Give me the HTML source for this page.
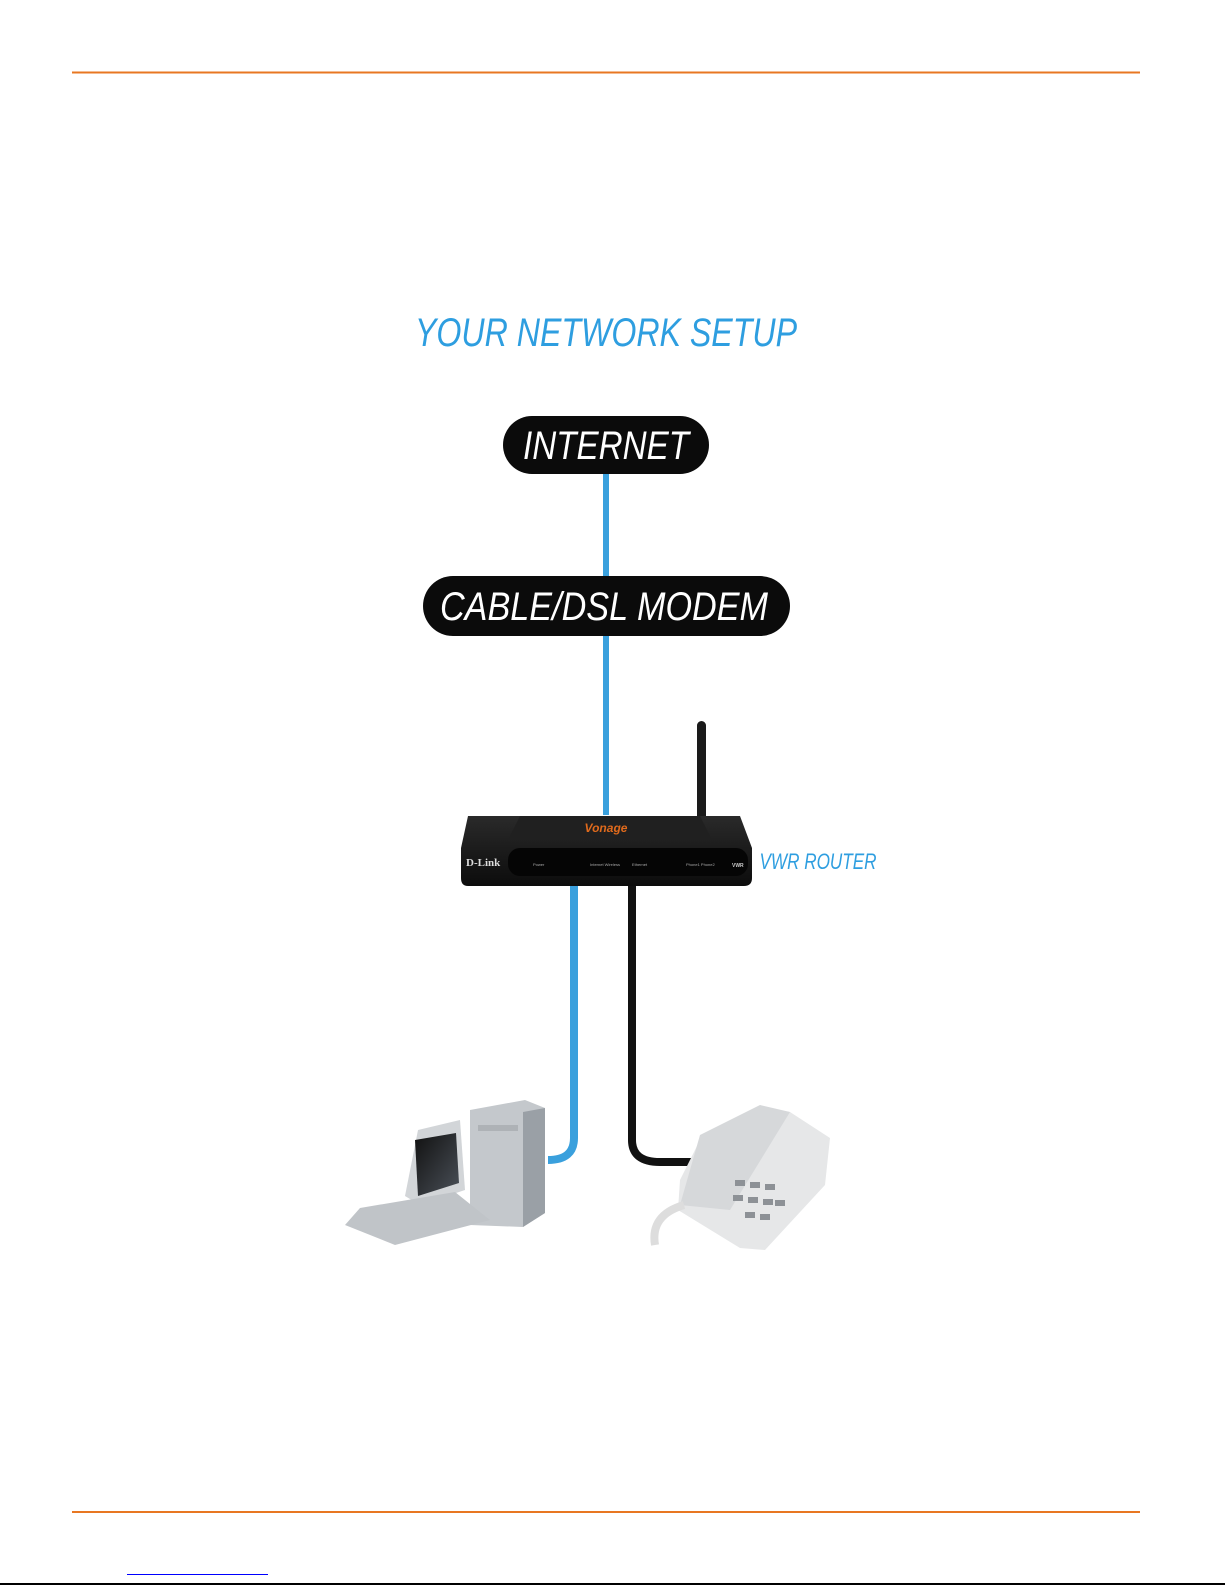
<!DOCTYPE html>
<html><head><meta charset="utf-8"><style>
html,body{margin:0;padding:0;background:#fff;}
svg{display:block}
</style></head><body>
<svg width="1225" height="1585" viewBox="0 0 1225 1585" xmlns="http://www.w3.org/2000/svg">
<defs>
<linearGradient id="scr" x1="0" y1="0" x2="1" y2="1"><stop offset="0" stop-color="#111"/><stop offset="1" stop-color="#4a5058"/></linearGradient>
<linearGradient id="rt" x1="0" y1="0" x2="0" y2="1"><stop offset="0" stop-color="#2a2a2a"/><stop offset="1" stop-color="#0c0c0c"/></linearGradient>
</defs>
<line x1="72" y1="72.5" x2="1140" y2="72.5" stroke="#e87722" stroke-width="2"/>
<line x1="72" y1="1512" x2="1140" y2="1512" stroke="#e87722" stroke-width="2"/>
<line x1="127" y1="1574.5" x2="268" y2="1574.5" stroke="#0000ff" stroke-width="1"/>
<line x1="0" y1="1584" x2="1225" y2="1584" stroke="#000" stroke-width="2"/>

<text x="606" y="346" text-anchor="middle" font-family="'Liberation Sans Narrow','Liberation Sans',sans-serif" font-style="italic" font-size="40" fill="#2e9ee0" textLength="382" lengthAdjust="spacingAndGlyphs">YOUR NETWORK SETUP</text>

<!-- connectors -->
<rect x="603" y="470" width="6" height="345" fill="#3aa0dd"/>
<path d="M574 885 V1138 Q574 1160 548 1160" fill="none" stroke="#3aa0dd" stroke-width="8"/>
<path d="M632 885 V1140 Q632 1162 660 1162 H705" fill="none" stroke="#111" stroke-width="8"/>

<rect x="503" y="416" width="206" height="58" rx="29" fill="#0b0b0b"/>
<text x="606" y="459" text-anchor="middle" font-family="'Liberation Sans Narrow','Liberation Sans',sans-serif" font-style="italic" font-size="40" fill="#fff" textLength="166" lengthAdjust="spacingAndGlyphs">INTERNET</text>
<rect x="423" y="576" width="367" height="60" rx="30" fill="#0b0b0b"/>
<text x="604" y="620" text-anchor="middle" font-family="'Liberation Sans Narrow','Liberation Sans',sans-serif" font-style="italic" font-size="40" fill="#fff" textLength="328" lengthAdjust="spacingAndGlyphs">CABLE/DSL MODEM</text>

<!-- router -->
<rect x="697" y="721" width="9" height="105" rx="4.5" fill="#1a1a1a"/>
<path d="M468 816 L740 816 L752 848 L752 878 Q752 886 744 886 L468 886 Q461 886 461 878 L461 848 Z" fill="url(#rt)"/>
<path d="M520 816 L700 816 L712 840 L508 840 Z" fill="#202020"/>
<text x="606" y="832" text-anchor="middle" font-family="'Liberation Sans',sans-serif" font-style="italic" font-weight="bold" font-size="12" fill="#e06a1c">Vonage</text>
<rect x="508" y="848" width="240" height="28" rx="12" fill="#050505"/>
<text x="466" y="866" font-family="'Liberation Serif',serif" font-weight="bold" font-size="11" fill="#ddd">D-Link</text>
<text x="533" y="866" font-family="'Liberation Sans',sans-serif" font-size="4" fill="#aaa">Power</text>
<text x="590" y="866" font-family="'Liberation Sans',sans-serif" font-size="4" fill="#aaa">Internet Wireless</text>
<text x="632" y="866" font-family="'Liberation Sans',sans-serif" font-size="4" fill="#aaa">Ethernet</text>
<text x="686" y="866" font-family="'Liberation Sans',sans-serif" font-size="4" fill="#aaa">Phone1 Phone2</text>
<text x="732" y="867" font-family="'Liberation Sans',sans-serif" font-weight="bold" font-size="5" fill="#ccc">VWR</text>
<text x="818" y="869" text-anchor="middle" font-family="'Liberation Sans Narrow','Liberation Sans',sans-serif" font-style="italic" font-size="22" fill="#2e9ee0" textLength="117" lengthAdjust="spacingAndGlyphs">VWR ROUTER</text>

<!-- computer -->
<path d="M470 1110 L525 1100 L545 1108 L545 1213 L523 1227 L470 1225 Z" fill="#c4c8cc"/>
<path d="M523 1112 L545 1108 L545 1213 L523 1227 Z" fill="#9aa0a6"/>
<rect x="478" y="1125" width="40" height="6" fill="#aeb2b6"/>
<path d="M418 1130 L460 1120 L465 1190 L420 1205 L405 1196 Z" fill="#d2d5d8"/>
<path d="M415 1140 L456 1133 L459 1183 L418 1196 Z" fill="url(#scr)"/>
<path d="M360 1208 L455 1192 L490 1220 L395 1245 L345 1225 Z" fill="#c0c4c8"/>
<!-- phone -->
<path d="M700 1140 L760 1108 L790 1112 L830 1138 L825 1185 L765 1250 L740 1248 L678 1210 L680 1180 Z" fill="#e6e7e8"/>
<path d="M700 1135 L760 1105 L790 1112 L730 1210 L680 1205 Z" fill="#d6d8da"/>
<g fill="#8d9196">
<rect x="735" y="1180" width="10" height="6"/><rect x="750" y="1182" width="10" height="6"/><rect x="765" y="1184" width="10" height="6"/>
<rect x="733" y="1195" width="10" height="6"/><rect x="748" y="1197" width="10" height="6"/><rect x="763" y="1199" width="10" height="6"/>
<rect x="745" y="1212" width="10" height="6"/><rect x="760" y="1214" width="10" height="6"/><rect x="775" y="1200" width="10" height="6"/>
</g>
<path d="M684 1205 Q650 1215 655 1245" fill="none" stroke="#ddd" stroke-width="8"/>
</svg>
</body></html>
